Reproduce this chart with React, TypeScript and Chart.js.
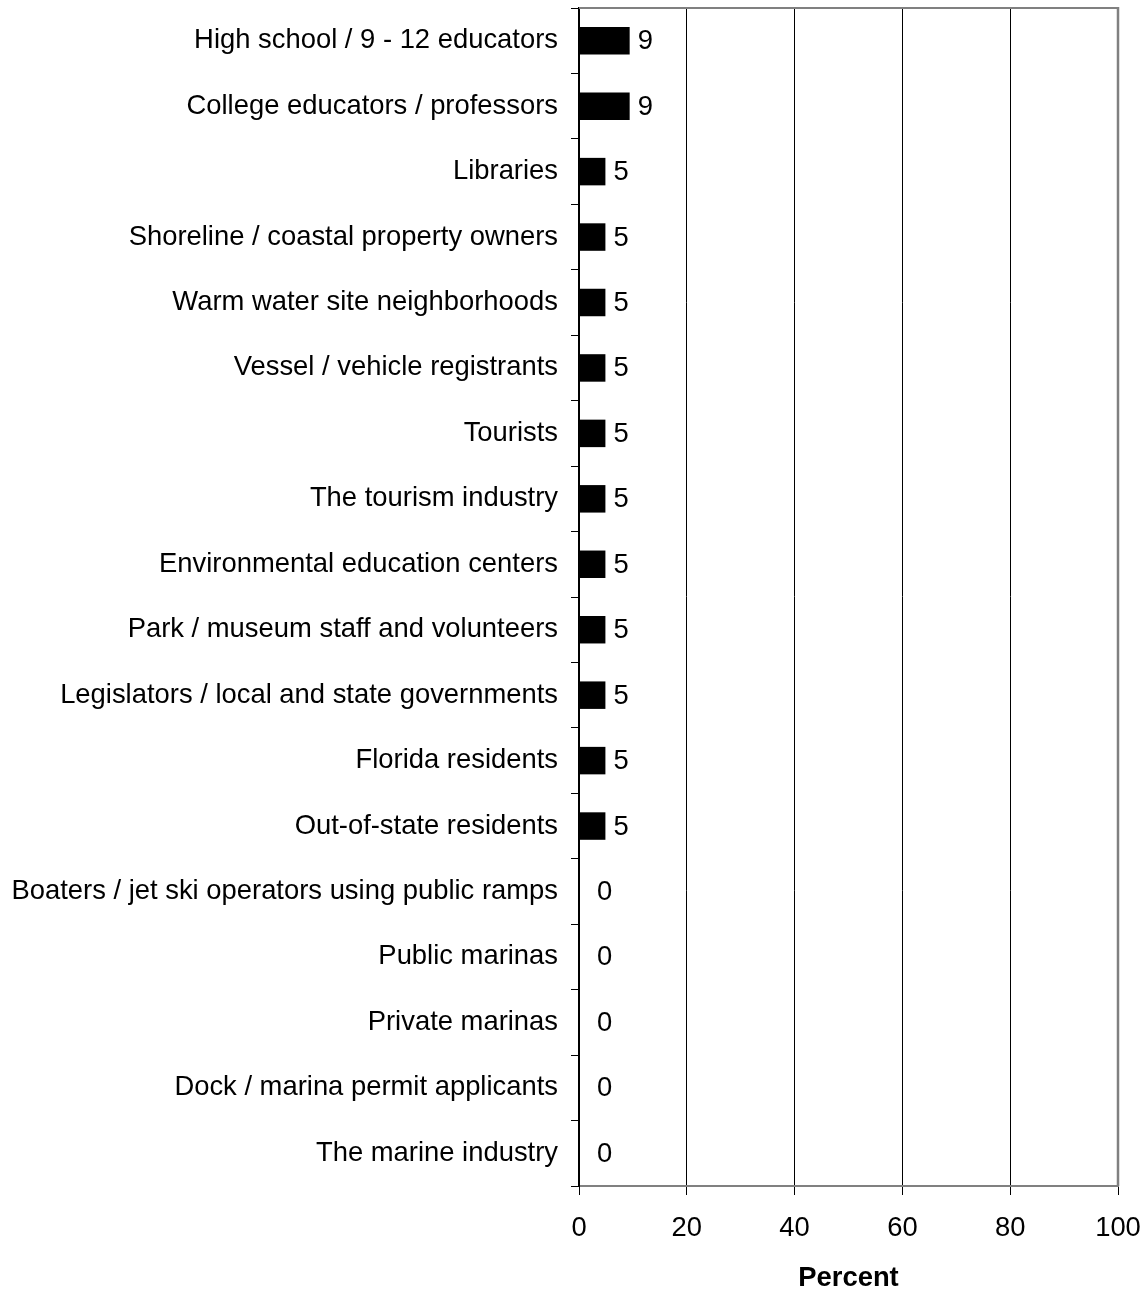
import React, { useEffect, useRef } from "react";
import { Chart, registerables } from "chart.js";

Chart.register(...registerables);

const categories = [
  "High school / 9 - 12 educators",
  "College educators / professors",
  "Libraries",
  "Shoreline / coastal property owners",
  "Warm water site neighborhoods",
  "Vessel / vehicle registrants",
  "Tourists",
  "The tourism industry",
  "Environmental education centers",
  "Park / museum staff and volunteers",
  "Legislators / local and state governments",
  "Florida residents",
  "Out-of-state residents",
  "Boaters / jet ski operators using public ramps",
  "Public marinas",
  "Private marinas",
  "Dock / marina permit applicants",
  "The marine industry",
];

const percentValues = [9.4, 9.4, 4.9, 4.9, 4.9, 4.9, 4.9, 4.9, 4.9, 4.9, 4.9, 4.9, 4.9, 0, 0, 0, 0, 0];

const xTicks = [0, 20, 40, 60, 80, 100];

const FONT = "'Liberation Sans', Arial, Helvetica, sans-serif";
const FSIZE = 27.4;

const valueLabelPlugin = {
  id: "valueLabels",
  afterDatasetsDraw(chart: any) {
    const ctx = chart.ctx;
    const meta = chart.getDatasetMeta(0);
    const data = chart.data.datasets[0].data as number[];
    ctx.save();
    ctx.font = `${FSIZE}px ${FONT}`;
    ctx.fillStyle = "#000";
    ctx.textAlign = "left";
    ctx.textBaseline = "middle";
    meta.data.forEach((bar: any, i: number) => {
      const v = data[i];
      const gap = v === 0 ? 18 : 8;
      ctx.fillText(String(Math.round(v)), bar.x + gap, bar.y + 1);
    });
    ctx.restore();
  },
};

const frameBorderPlugin = {
  id: "frameBorder",
  afterDraw(chart: any) {
    const { ctx, chartArea } = chart;
    ctx.save();
    ctx.strokeStyle = "#808080";
    ctx.lineWidth = 2;
    ctx.beginPath();
    ctx.moveTo(chartArea.left, chartArea.top);
    ctx.lineTo(chartArea.right, chartArea.top);
    ctx.stroke();
    ctx.lineWidth = 2.5;
    ctx.beginPath();
    ctx.moveTo(chartArea.right, chartArea.top - 1);
    ctx.lineTo(chartArea.right, chartArea.bottom);
    ctx.stroke();
    ctx.restore();
  },
};

export default function App() {
  const canvasRef = useRef<HTMLCanvasElement | null>(null);

  useEffect(() => {
    if (!canvasRef.current) return;
    Chart.defaults.font.family = FONT;
    Chart.defaults.color = "#000";
    const chart = new Chart(canvasRef.current, {
      type: "bar",
      data: {
        labels: categories,
        datasets: [
          {
            data: percentValues,
            backgroundColor: "#000",
            borderWidth: 0,
            categoryPercentage: 1,
            barPercentage: 0.42,
          },
        ],
      },
      options: {
        indexAxis: "y",
        responsive: false,
        animation: false,
        devicePixelRatio: 1,
        layout: { padding: { top: 8, right: 29, left: 0, bottom: 0 } },
        plugins: {
          legend: { display: false },
          tooltip: { enabled: false },
        },
        scales: {
          x: {
            min: 0,
            max: 100,
            afterBuildTicks: (scale: any) => {
              scale.ticks = xTicks.map((v) => ({ value: v }));
            },
            afterFit: (scale: any) => {
              scale.height = 107;
              scale.paddingLeft = 0;
              scale.paddingRight = 0;
            },
            ticks: {
              font: { size: FSIZE },
              color: "#000",
              padding: 17,
              maxRotation: 0,
            },
            grid: {
              color: (c: any) => (c.tick && (c.tick.value === 0 || c.tick.value === 100) ? "rgba(0,0,0,0)" : "#000"),
              lineWidth: 1,
              drawTicks: true,
              tickLength: 9,
              tickColor: "#000",
            },
            border: { display: true, color: "#808080", width: 2 },
            title: {
              display: true,
              text: "Percent",
              font: { size: FSIZE, weight: "bold" },
              color: "#000",
              padding: { top: 0, bottom: -2 },
            },
          },
          y: {
            afterFit: (scale: any) => {
              scale.width = 579;
              scale.paddingTop = 0;
              scale.paddingBottom = 0;
            },
            ticks: {
              font: { size: FSIZE },
              color: "#000",
              padding: 13,
              autoSkip: false,
            },
            grid: {
              offset: true,
              drawOnChartArea: false,
              drawTicks: true,
              tickLength: 8,
              color: "#000",
              tickColor: "#000",
            },
            border: { display: true, color: "#000", width: 2 },
          },
        },
      },
      plugins: [valueLabelPlugin, frameBorderPlugin],
    } as any);
    return () => chart.destroy();
  }, []);

  return (
    <div style={{ position: "absolute", left: 0, top: 0, width: 1147, height: 1293, background: "#fff" }}>
      <canvas ref={canvasRef} width={1147} height={1293} style={{ width: 1147, height: 1293, display: "block" }} />
    </div>
  );
}
